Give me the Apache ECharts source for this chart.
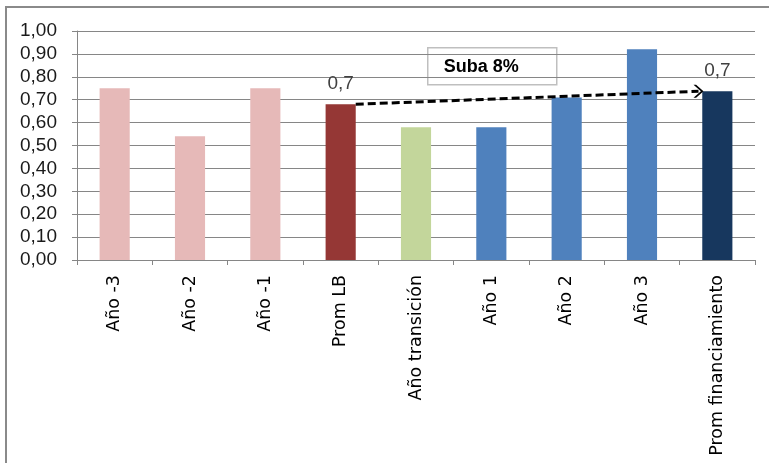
<!DOCTYPE html>
<html>
<head>
<meta charset="utf-8">
<script src="https://cdn.jsdelivr.net/npm/echarts@6/dist/echarts.min.js"></script>
<style>
html,body{margin:0;padding:0;background:#fff;}
#c{width:769px;height:463px;}
</style>
</head>
<body>
<div id="c"></div>
<script>
// ---- data ----
const categories = ['Año -3','Año -2','Año -1','Prom LB','Año transición','Año 1','Año 2','Año 3','Prom financiamiento'];
const values = [0.75, 0.54, 0.75, 0.68, 0.58, 0.58, 0.71, 0.92, 0.737];
const labelledBars = ['Prom LB','Prom financiamiento'];
const yTicks = [0, 1, 0.1]; // min, max, interval
const arrowX = [3.2, 7.75];
const arrowY = [0.68, 0.737];
const annotationText = 'Suba 8%';

// ---- styles ----
const barColors = ['#E6B9B8','#E6B9B8','#E6B9B8','#953735','#C3D69B','#4F81BD','#4F81BD','#4F81BD','#17375E'];
const gridColor = '#868686';

const chart = echarts.init(document.getElementById('c'), null, {renderer:'canvas'});

const barData = values.map((v, i) => ({
  value: v,
  itemStyle: { color: barColors[i] },
  label: {
    show: labelledBars.includes(categories[i]),
    position: 'top',
    distance: 11,
    formatter: p => p.value.toFixed(1).replace('.', ','),
    fontFamily: 'Liberation Sans',
    fontSize: 19,
    color: '#404040'
  }
}));

const chevron = 'path://M0,0 L2.6,0 L10,6 L2.6,12 L0,12 L7.4,6 Z';

chart.setOption({
  animation: false,
  backgroundColor: '#fff',
  grid: { left: 77, right: 14, top: 31, bottom: 203, containLabel: false },
  xAxis: [{
    type: 'category',
    data: categories,
    boundaryGap: true,
    axisLine: { show: true, onZero: false, lineStyle: { color: gridColor, width: 1 } },
    axisTick: { show: true, length: 5, lineStyle: { color: gridColor } },
    axisLabel: {
      rotate: 90,
      interval: 0,
      margin: 15,
      fontFamily: 'DejaVu Sans',
      fontSize: 17.5,
      color: '#000'
    },
    splitLine: { show: false }
  }, {
    type: 'value',
    min: -0.5,
    max: 8.5,
    show: false
  }],
  yAxis: {
    type: 'value',
    min: yTicks[0],
    max: yTicks[1],
    interval: yTicks[2],
    axisLine: { show: true, onZero: false, lineStyle: { color: gridColor, width: 1 } },
    axisTick: { show: true, length: 5, lineStyle: { color: gridColor } },
    axisLabel: {
      margin: 20,
      fontFamily: 'Liberation Sans',
      fontSize: 19,
      color: '#1a1a1a',
      formatter: v => v.toFixed(2).replace('.', ',')
    },
    splitLine: { show: true, lineStyle: { color: gridColor, width: 1 } }
  },
  series: [{
    type: 'bar',
    data: barData,
    barWidth: '40%',
    xAxisIndex: 0
  }, {
    type: 'line',
    xAxisIndex: 1,
    data: arrowX.map((x, i) => ({
      value: [x, arrowY[i]],
      symbol: i === arrowX.length - 1 ? chevron : 'none',
      symbolSize: [10, 13],
      symbolKeepAspect: false
    })),
    showSymbol: true,
    itemStyle: { color: '#000' },
    lineStyle: { color: '#000', width: 3, type: [8, 4] },
    z: 5,
    silent: true
  }],
  graphic: [{
    type: 'rect',
    shape: { x: 6, y: 7, width: 800, height: 500 },
    style: { fill: 'none', stroke: '#8a8a8a', lineWidth: 2 },
    z: -1,
    silent: true
  }, {
    type: 'group',
    left: 427,
    top: 47,
    z: 10,
    children: [{
      type: 'rect',
      shape: { x: 0, y: 0, width: 129, height: 37 },
      style: { fill: '#fff', stroke: '#BFBFBF', lineWidth: 1.5 }
    }, {
      type: 'text',
      x: 16,
      y: 19,
      style: {
        text: annotationText,
        fontFamily: 'Liberation Sans',
        fontWeight: 'bold',
        fontSize: 18,
        fill: '#000',
        verticalAlign: 'middle'
      }
    }]
  }]
});
</script>
</body>
</html>
